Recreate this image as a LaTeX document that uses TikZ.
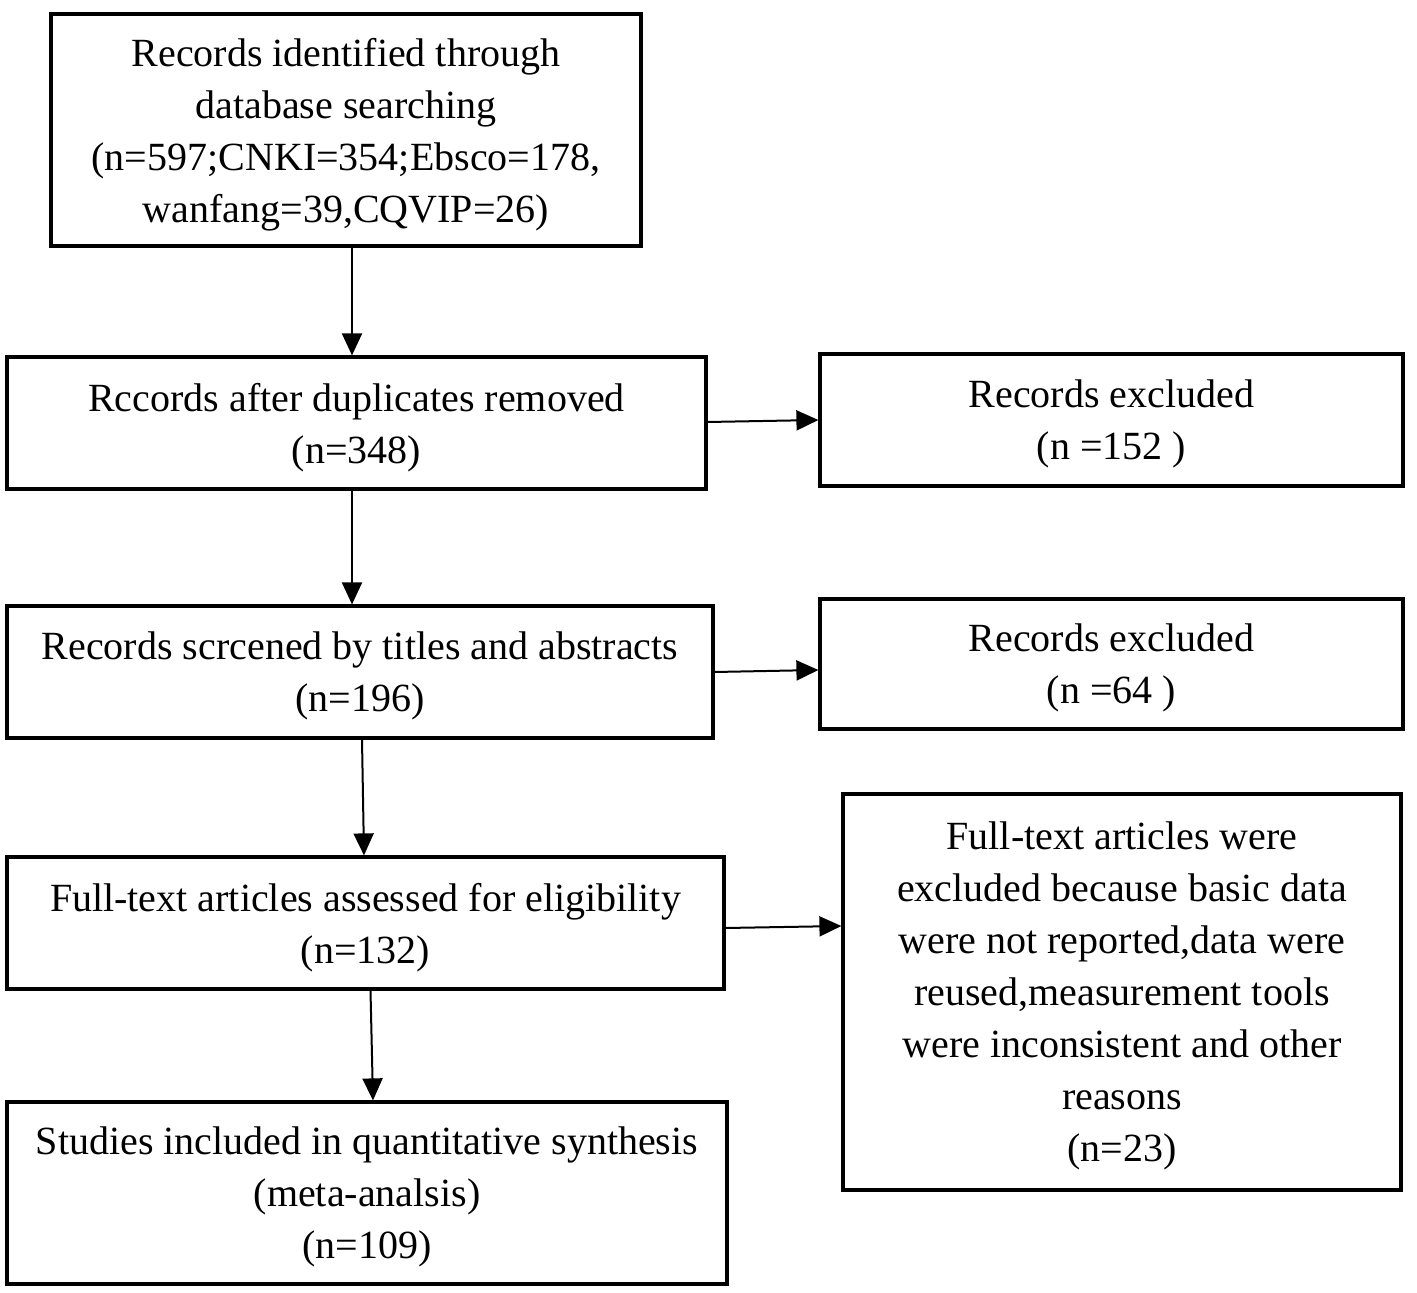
\documentclass[tikz,border=0pt]{standalone}
\usepackage{fontspec}
\setmainfont{Liberation Serif}
\usetikzlibrary{arrows.meta}

\begin{document}
\begin{tikzpicture}[
            x=0.5pt, y=-0.5pt,
            flow box/.style={draw,line width=1.6pt,align=center,inner sep=0pt,text depth=0pt,font=\fontsize{20}{26}\selectfont},
            flow arrow/.style={draw,line width=1pt,-{Triangle[length=11pt,width=10pt]}},
        ]
            \useasboundingbox (0,0) rectangle (1417,1293);

            \node[flow box, minimum width=295pt, minimum height=116pt] (identified) at (346,130)
                {Records identified through\\database searching\\(n=597;CNKI=354;Ebsco=178,\\wanfang=39,CQVIP=26)};
            \node[flow box, minimum width=349.5pt, minimum height=66pt] (dup_removed) at (356.5,423)
                {Rccords after duplicates removed\\(n=348)};
            \node[flow box, minimum width=291.5pt, minimum height=66pt] (excluded_a) at (1111.5,420)
                {Records excluded\\(n =152 )};
            \node[flow box, minimum width=353pt, minimum height=66pt] (screened) at (360,672)
                {Records scrcened by titles and abstracts\\(n=196)};
            \node[flow box, minimum width=291.5pt, minimum height=65pt] (excluded_b) at (1111.5,664)
                {Records excluded\\(n =64 )};
            \node[flow box, minimum width=358.5pt, minimum height=66pt] (fulltext) at (365.5,923)
                {Full-text articles assessed for eligibility\\(n=132)};
            \node[flow box, minimum width=279pt, minimum height=198pt] (excluded_c) at (1122,992)
                {Full-text articles were\\excluded because basic data\\were not reported,data were\\reused,measurement tools\\were inconsistent and other\\reasons\\(n=23)};
            \node[flow box, minimum width=360pt, minimum height=91pt] (included) at (367,1193)
                {Studies included in quantitative synthesis\\(meta-analsis)\\(n=109)};

            \path[flow arrow] ([xshift=3pt]identified.south) -- ([xshift=-2.25pt]dup_removed.north);
            \path[flow arrow] ([xshift=-2.25pt]dup_removed.south) -- ([xshift=-4pt]screened.north);
            \path[flow arrow] ([xshift=1pt]screened.south) -- ([xshift=-0.75pt]fulltext.north);
            \path[flow arrow] ([xshift=2.5pt]fulltext.south) -- ([xshift=3pt]included.north);

            \path[flow arrow] ([yshift=0.5pt]dup_removed.east) -- (excluded_a.west);
            \path[flow arrow] (screened.east) -- ([yshift=-3pt]excluded_b.west);
            \path[flow arrow] ([yshift=-2.5pt]fulltext.east) -- ([yshift=33pt]excluded_c.west);
        \end{tikzpicture}
\end{document}
